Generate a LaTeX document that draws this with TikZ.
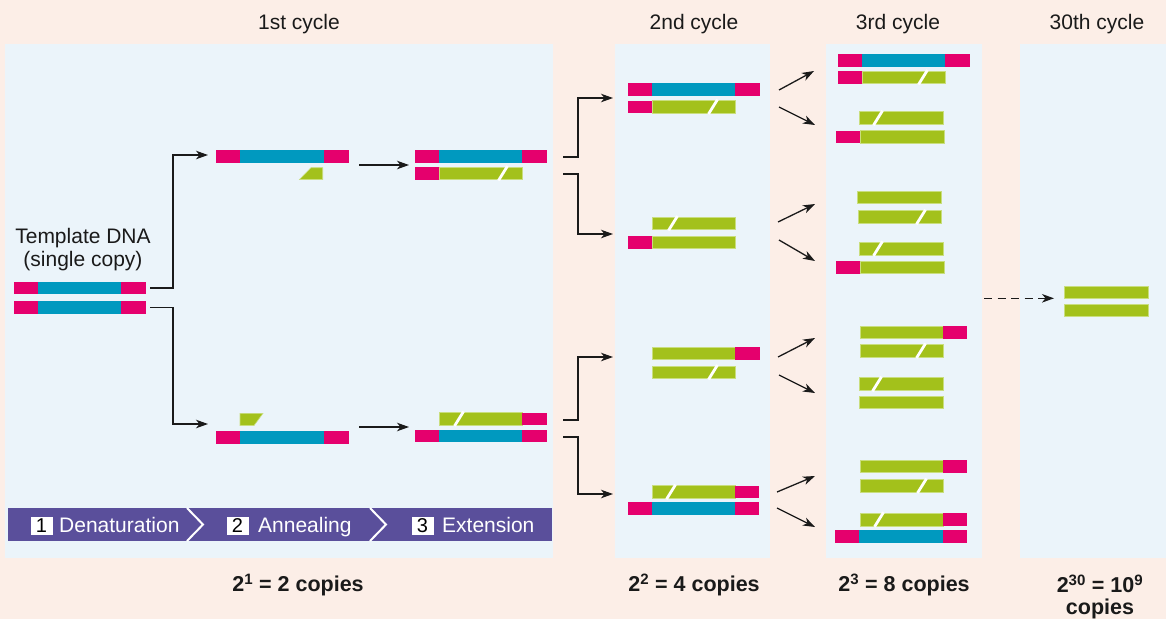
\documentclass[tikz,border=0pt]{standalone}
\usepackage{fontspec}
\setmainfont{Liberation Sans}
\usetikzlibrary{arrows.meta}
\definecolor{peach}{HTML}{FCEEE7}
\definecolor{panel}{HTML}{EBF4FA}
\definecolor{mag}{HTML}{E5006D}
\definecolor{dblue}{HTML}{0099BF}
\definecolor{lgreen}{HTML}{A3C11B}
\definecolor{gedge}{HTML}{C9DE7E}
\definecolor{purp}{HTML}{5A4F9B}
\definecolor{ink}{HTML}{1A1A1A}
\newcommand\sM[3]{\fill[mag] (#1,#3) rectangle (#2,#3+12.5);}
\newcommand\sB[3]{\fill[dblue] (#1,#3) rectangle (#2,#3+12.5);}
\newcommand\sG[3]{\filldraw[fill=lgreen, draw=gedge, line width=0.6] (#1,#3) rectangle (#2,#3+12.5);}
\newcommand\sCut[2]{\draw[white, line width=2.8] (#1-4.5,#2+13.5) -- (#1+4.5,#2-1);}
\newcommand\dsDNA[4]{\sM{#1}{#1+24}{#4}\sB{#1+24}{#2}{#4}\sM{#2}{#3}{#4}}
\begin{document}
\begin{tikzpicture}[x=1pt,y=-1pt,
  arr/.style={-{Stealth[length=12,width=8.5,inset=3.5]}, line width=1.3, draw=ink},
  ttl/.style={font=\fontsize{21}{25}\selectfont, text=ink, inner sep=0},
  cnt/.style={font=\fontsize{21.5}{24}\selectfont\bfseries, text=ink, inner sep=0, align=center},
  barlbl/.style={font=\fontsize{21}{24}\selectfont, text=white, anchor=base west, inner sep=0},
  numbox/.style={fill=white, text=black, minimum width=22, minimum height=18, inner sep=0, font=\fontsize{20}{22}\selectfont}]
\useasboundingbox (0,0) rectangle (1166,619);
\fill[peach] (0,0) rectangle (1166,619);
% panels
\fill[panel] (5,44) rectangle (553,558);
\fill[panel] (615,44) rectangle (770,558);
\fill[panel] (826,44) rectangle (982,558);
\fill[panel] (1020,44) rectangle (1166,558);
% titles
\node[ttl] (t1) at (299,24) {1st cycle};
\node[ttl] (t2) at (694,24) {2nd cycle};
\node[ttl] (t3) at (898,24) {3rd cycle};
\node[ttl] (t30) at (1097,24) {30th cycle};
% template
\node[ttl] (tpl1) at (83,238) {Template DNA};
\node[ttl] (tpl2) at (83,261) {(single copy)};
\dsDNA{14}{121}{146}{281.7}
\dsDNA{14}{121}{146}{301.3}
% cycle 1 top
\dsDNA{216}{324}{348.5}{150}
\filldraw[fill=lgreen, draw=gedge, line width=0.6] (299.5,179.5) -- (311,167.7) -- (322.7,167.7) -- (322.7,179.5) -- cycle;
\dsDNA{415}{522}{546.5}{150}
\sM{415}{439}{167}\sG{439}{522}{167}\sCut{503}{167}
% cycle 1 bottom
\filldraw[fill=lgreen, draw=gedge, line width=0.6] (240,413.3) -- (263,413.3) -- (254,425.5) -- (240,425.5) -- cycle;
\dsDNA{216}{324}{348.5}{431}
\sG{439}{522}{412.5}\sCut{459}{412.5}\sM{522}{546.5}{412.5}
\dsDNA{415}{522}{546.5}{429.5}
% cycle 2
\dsDNA{628}{735}{760}{83.3}
\sM{628}{652}{100.5}\sG{652}{735}{100.5}\sCut{713}{100.5}
\sG{652}{735}{217}\sCut{673}{217}
\sM{628}{652}{236}\sG{652}{735}{236}
\sG{652}{735}{347}\sM{735}{760}{347}
\sG{652}{735}{366}\sCut{713}{366}
\sG{652}{735}{485.7}\sCut{671}{485.7}\sM{735}{759}{485.7}
\dsDNA{628}{735}{759}{502}
% cycle 3
\dsDNA{838}{945}{970}{54}
\sM{838}{862}{71}\sG{862}{945}{71}\sCut{923}{71}
\sG{859}{943}{111.7}\sCut{878}{111.7}
\sM{836}{860}{130.7}\sG{860}{944}{130.7}
\sG{857}{941}{191}
\sG{858}{941}{210.7}\sCut{921}{210.7}
\sG{859}{943}{242.3}\sCut{878}{242.3}
\sM{836}{860}{261}\sG{860}{944}{261}
\sG{860}{943}{326}\sM{943}{967}{326}
\sG{860}{943}{344.5}\sCut{921}{344.5}
\sG{859}{943}{377.7}\sCut{877}{377.7}
\sG{859}{943}{396}
\sG{860}{943}{460}\sM{943}{967}{460}
\sG{860}{943}{479.5}\sCut{922}{479.5}
\sG{860}{943}{513.3}\sCut{879}{513.3}\sM{943}{967}{513.3}
\dsDNA{835}{943}{967}{530}
% cycle 30
\sG{1064}{1148}{286}
\sG{1064}{1148}{304}
% connector coordinates
\coordinate (tA) at (150,288);
\coordinate (tB) at (150,307.5);
\coordinate (p1) at (208,155);
\coordinate (p2) at (208,424);
\coordinate (a1s) at (359,165); \coordinate (a1e) at (409,165);
\coordinate (a2s) at (359,427); \coordinate (a2e) at (409,427);
\coordinate (r1) at (563,157); \coordinate (r2) at (563,174);
\coordinate (r3) at (563,420); \coordinate (r4) at (563,437);
\coordinate (q1) at (613,98); \coordinate (q2) at (613,234);
\coordinate (q3) at (613,357); \coordinate (q4) at (613,494);
% connectors
\draw[arr] (tA) -- ++(23,0) |- (p1);
\draw[arr] (tB) -- ++(23,0) |- (p2);
\draw[arr] (a1s) -- (a1e);
\draw[arr] (a2s) -- (a2e);
\draw[arr] (r1) -- ++(15,0) |- (q1);
\draw[arr] (r2) -- ++(15,0) |- (q2);
\draw[arr] (r3) -- ++(15,0) |- (q3);
\draw[arr] (r4) -- ++(15,0) |- (q4);
% cycle 2 -> 3 arrows
\coordinate (u1s) at (779,90); \coordinate (u1e) at (814,71);
\coordinate (d1s) at (779,107); \coordinate (d1e) at (815,125);
\coordinate (u2s) at (778,222); \coordinate (u2e) at (815,204);
\coordinate (d2s) at (779,240); \coordinate (d2e) at (815,261);
\coordinate (u3s) at (778,357); \coordinate (u3e) at (815,338);
\coordinate (d3s) at (779,375); \coordinate (d3e) at (815,393);
\coordinate (u4s) at (777,492); \coordinate (u4e) at (815,476);
\coordinate (d4s) at (777,508); \coordinate (d4e) at (815,527);
\foreach \n in {1,2,3,4} {
  \draw[arr] (u\n s) -- (u\n e);
  \draw[arr] (d\n s) -- (d\n e);
}
% dashed to cycle 30
\coordinate (ds) at (984,298.3); \coordinate (de) at (1054,298.3);
\draw[arr, dash pattern=on 8 off 5.5] (ds) -- (de);
% step bar
\fill[purp] (8,508) rectangle (552,541);
\draw[white, line width=2] (187,508) -- (203,524.5) -- (187,541);
\draw[white, line width=2] (370,508) -- (386,524.5) -- (370,541);
\node[numbox] (n1) at (41.5,526) {1};
\node[barlbl] (l1) at (59,532) {Denaturation};
\node[numbox] (n2) at (237.5,526) {2};
\node[barlbl] (l2) at (258,532) {Annealing};
\node[numbox] (n3) at (422.5,526) {3};
\node[barlbl] (l3) at (442,532) {Extension};
% counts
\node[cnt] (c1) at (298,585) {2\textsuperscript{1} = 2 copies};
\node[cnt] (c2) at (694,585) {2\textsuperscript{2} = 4 copies};
\node[cnt] (c3) at (904,585) {2\textsuperscript{3} = 8 copies};
\node[cnt] (c30) at (1100,597) {2\textsuperscript{30} = 10\textsuperscript{9}\\[-2pt]copies};
\end{tikzpicture}
\end{document}
